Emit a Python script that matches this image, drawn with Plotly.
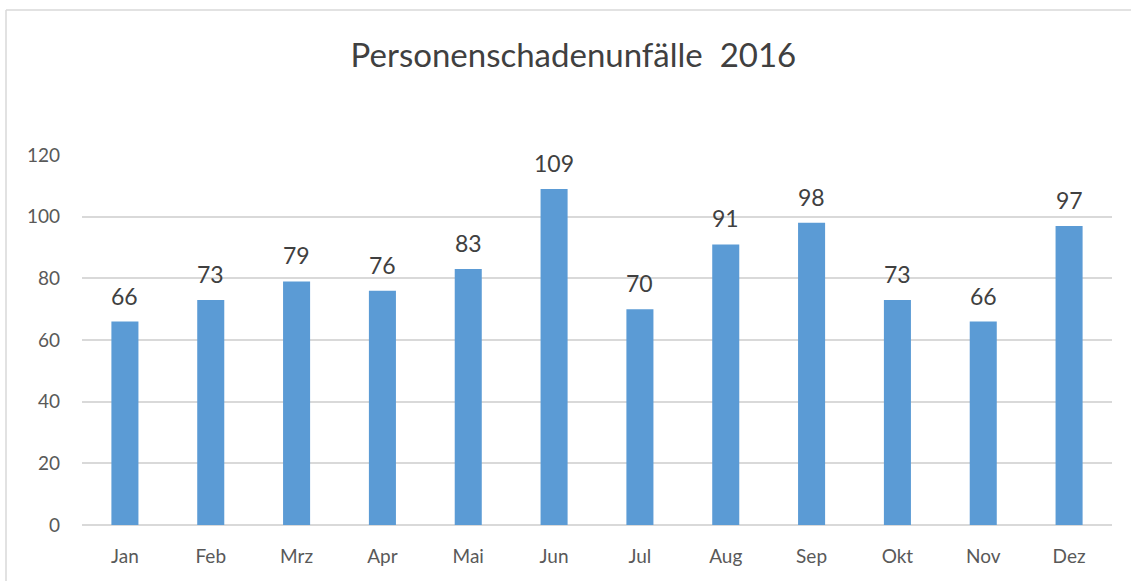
import plotly.graph_objects as go

months = ["Jan", "Feb", "Mrz", "Apr", "Mai", "Jun", "Jul", "Aug", "Sep", "Okt", "Nov", "Dez"]
values = [66, 73, 79, 76, 83, 109, 70, 91, 98, 73, 66, 97]
y_ticks = [0, 20, 40, 60, 80, 100, 120]

W, H = 1131, 581
L, R, T, B = 82, 19, 155, 56
pw, ph = W - L - R, H - T - B

fig = go.Figure()
fig.add_trace(go.Bar(x=months, y=values, marker=dict(color="#5b9bd5", line=dict(width=0)), hoverinfo="x+y"))

for m, v in zip(months, values):
    fig.add_annotation(x=m, y=v, text=str(v), showarrow=False, yanchor="bottom", yshift=10,
                       font=dict(family="Lato", size=23, color="#404040"))

# outer chart border: only left and top edges are visible in the reference
bx0 = (6 - L) / pw
by1 = (H - 10 - B) / ph
fig.add_shape(type="line", xref="paper", yref="paper", x0=bx0, x1=bx0, y0=-(B + 10) / ph, y1=by1,
              line=dict(color="#d9d9d9", width=1.5), layer="below")
fig.add_shape(type="line", xref="paper", yref="paper", x0=bx0, x1=(W + 10 - L) / pw, y0=by1, y1=by1,
              line=dict(color="#d9d9d9", width=1.5), layer="below")

fig.update_layout(
    width=W, height=H,
    margin=dict(l=L, r=R, t=T, b=B, autoexpand=False),
    paper_bgcolor="white", plot_bgcolor="white",
    bargap=0.685,
    showlegend=False,
    title=dict(text="Personenschadenunfälle  2016", x=0.507, xanchor="center", y=1 - 55 / H, yanchor="middle",
               font=dict(family="Lato", size=33, color="#404040")),
    xaxis=dict(showgrid=False, showline=False, ticks="", ticklabelstandoff=18,
               tickfont=dict(family="Lato", size=19, color="#595959")),
    yaxis=dict(range=[0, 120], tickvals=y_ticks, showgrid=True, gridcolor="#d9d9d9", gridwidth=1.5,
               zeroline=True, zerolinecolor="#d9d9d9", zerolinewidth=1.5, showline=False, ticks="",
               ticklabelstandoff=21, tickfont=dict(family="Lato", size=19, color="#595959")),
)

fig.write_html("out.html", config={"displayModeBar": False},
               post_script="document.body.style.margin='0';document.body.style.padding='0';")
